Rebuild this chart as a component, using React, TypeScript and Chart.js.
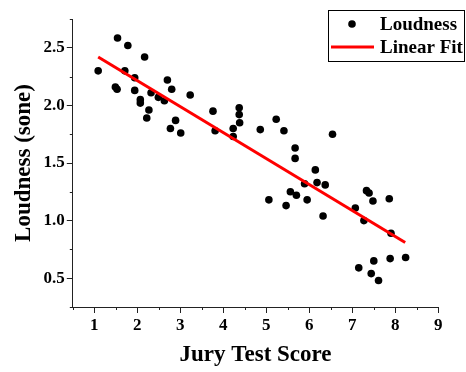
import { useEffect, useRef } from 'react';
import { Chart, registerables } from 'chart.js';

Chart.register(...registerables);

const SERIES_NAMES = ['Loudness', 'Linear Fit'];
const X_TITLE = 'Jury Test Score';
const Y_TITLE = 'Loudness (sone)';

const LOUD_X = [
  1.09, 1.54, 1.78, 2.17, 1.71, 1.94, 1.49, 1.53, 1.94, 2.32,
  2.07, 2.07, 2.49, 2.63, 2.70, 2.80, 3.23, 2.27, 2.22, 2.89,
  2.77, 3.01, 3.76, 3.81, 4.37, 4.37, 4.38, 4.23, 4.23, 4.86,
  5.23, 5.41, 5.67, 5.67, 6.54, 6.14, 5.89, 6.18, 6.37, 5.56,
  5.70, 5.06, 5.46, 5.95, 6.32, 7.33, 7.39, 7.48, 7.86, 7.07,
  7.27, 7.90, 7.50, 7.88, 8.24, 7.15, 7.44, 7.61,
];
const LOUD_Y = [
  2.30, 2.585, 2.52, 2.42, 2.30, 2.24, 2.16, 2.14, 2.13, 2.11,
  2.05, 2.02, 2.07, 2.04, 2.22, 2.14, 2.09, 1.96, 1.89, 1.87,
  1.80, 1.76, 1.95, 1.78, 1.98, 1.92, 1.85, 1.80, 1.73, 1.79,
  1.88, 1.78, 1.63, 1.54, 1.75, 1.44, 1.32, 1.33, 1.31, 1.25,
  1.22, 1.18, 1.13, 1.18, 1.04, 1.26, 1.24, 1.17, 1.19, 1.11,
  1.00, 0.89, 0.65, 0.67, 0.68, 0.59, 0.54, 0.48,
];
const FIT_X = [1.09, 8.23];
const FIT_Y = [2.42, 0.81];

const X_TICKS = [1, 2, 3, 4, 5, 6, 7, 8, 9];
const Y_TICKS = [0.5, 1.0, 1.5, 2.0, 2.5];
const X_MINOR = [0.5, 1.5, 2.5, 3.5, 4.5, 5.5, 6.5, 7.5, 8.5];
const Y_MINOR = [0.25, 0.75, 1.25, 1.75, 2.25, 2.75];

const FONT_FAMILY = "'Liberation Serif', 'Times New Roman', serif";
const AXIS_COLOR = '#222';

const minorTicksPlugin = {
  id: 'minorTicks',
  afterDraw(chart: any) {
    const ctx = chart.ctx;
    const xs = chart.scales.x;
    const ys = chart.scales.y;
    const area = chart.chartArea;
    ctx.save();
    ctx.strokeStyle = AXIS_COLOR;
    ctx.lineWidth = 1;
    ctx.beginPath();
    X_MINOR.forEach((v) => {
      const px = Math.round(xs.getPixelForValue(v)) + 0.5;
      ctx.moveTo(px, area.bottom);
      ctx.lineTo(px, area.bottom + 3);
    });
    Y_MINOR.forEach((v) => {
      const py = Math.round(ys.getPixelForValue(v)) + 0.5;
      ctx.moveTo(area.left, py);
      ctx.lineTo(area.left - 3, py);
    });
    ctx.stroke();
    ctx.restore();
  },
};

const legendPlugin = {
  id: 'boxLegend',
  afterDraw(chart: any) {
    const ctx = chart.ctx;
    ctx.save();
    const bx = 328.5;
    const by = 10.5;
    const bw = 136;
    const bh = 51;
    ctx.fillStyle = '#fff';
    ctx.fillRect(bx, by, bw, bh);
    ctx.strokeStyle = '#000';
    ctx.lineWidth = 1;
    ctx.strokeRect(bx, by, bw, bh);
    ctx.fillStyle = '#000';
    ctx.beginPath();
    ctx.arc(352, 24, 3.8, 0, Math.PI * 2);
    ctx.fill();
    ctx.strokeStyle = '#ff0000';
    ctx.lineWidth = 3;
    ctx.beginPath();
    ctx.moveTo(331, 47);
    ctx.lineTo(374, 47);
    ctx.stroke();
    ctx.fillStyle = '#000';
    ctx.font = `bold 19px ${FONT_FAMILY}`;
    ctx.textBaseline = 'middle';
    ctx.textAlign = 'left';
    ctx.fillText(SERIES_NAMES[0], 380, 25);
    ctx.fillText(SERIES_NAMES[1], 380, 48);
    ctx.restore();
  },
};

export default function App() {
  const ref = useRef<HTMLCanvasElement | null>(null);

  useEffect(() => {
    if (!ref.current) return;
    const tickFont = { family: FONT_FAMILY, size: 17, weight: 'bold' as const };
    const titleFont = { family: FONT_FAMILY, size: 23, weight: 'bold' as const };
    const chart = new Chart(ref.current, {
      type: 'scatter',
      data: {
        datasets: [
          {
            label: SERIES_NAMES[1],
            data: FIT_X.map((x, i) => ({ x, y: FIT_Y[i] })),
            showLine: true,
            borderColor: '#ff0000',
            backgroundColor: '#ff0000',
            borderWidth: 3,
            pointRadius: 0,
            order: 0,
          },
          {
            label: SERIES_NAMES[0],
            data: LOUD_X.map((x, i) => ({ x, y: LOUD_Y[i] })),
            backgroundColor: '#000',
            borderColor: '#000',
            borderWidth: 0,
            pointRadius: 3.8,
            order: 1,
          },
        ],
      },
      options: {
        responsive: false,
        animation: false,
        devicePixelRatio: 1,
        layout: { padding: { left: 0, top: 19, right: 27.7, bottom: 0 } },
        plugins: {
          legend: { display: false },
          tooltip: { enabled: false },
          title: { display: false },
        },
        scales: {
          x: {
            type: 'linear',
            min: 0.5,
            max: 9,
            afterBuildTicks: (s: any) => {
              s.ticks = X_TICKS.map((v) => ({ value: v }));
            },
            afterFit: (s: any) => {
              s.height = 65;
            },
            ticks: {
              font: tickFont,
              color: '#000',
              padding: 2,
              maxRotation: 0,
              autoSkip: false,
              callback: (v: any) => String(v),
            },
            grid: {
              drawOnChartArea: false,
              drawTicks: true,
              tickLength: 6,
              tickColor: AXIS_COLOR,
              tickWidth: 1,
            },
            border: { display: true, color: AXIS_COLOR, width: 1 },
            title: {
              display: true,
              text: X_TITLE,
              font: titleFont,
              color: '#000',
              padding: { top: 0, bottom: 3 },
            },
          },
          y: {
            type: 'linear',
            min: 0.25,
            max: 2.75,
            afterBuildTicks: (s: any) => {
              s.ticks = Y_TICKS.map((v) => ({ value: v }));
            },
            afterFit: (s: any) => {
              s.width = 72.8;
            },
            ticks: {
              font: tickFont,
              color: '#000',
              padding: 2,
              autoSkip: false,
              callback: (v: any) => Number(v).toFixed(1),
            },
            grid: {
              drawOnChartArea: false,
              drawTicks: true,
              tickLength: 6,
              tickColor: AXIS_COLOR,
              tickWidth: 1,
            },
            border: { display: true, color: AXIS_COLOR, width: 1 },
            title: {
              display: true,
              text: Y_TITLE,
              font: titleFont,
              color: '#000',
              padding: { top: 10, bottom: 0 },
            },
          },
        },
      },
      plugins: [minorTicksPlugin, legendPlugin],
    });
    return () => chart.destroy();
  }, []);

  return (
    <div style={{ position: 'fixed', left: 0, top: 0, width: 466, height: 372, background: '#fff' }}>
      <canvas ref={ref} width={466} height={372} style={{ display: 'block', width: 466, height: 372 }} />
    </div>
  );
}
